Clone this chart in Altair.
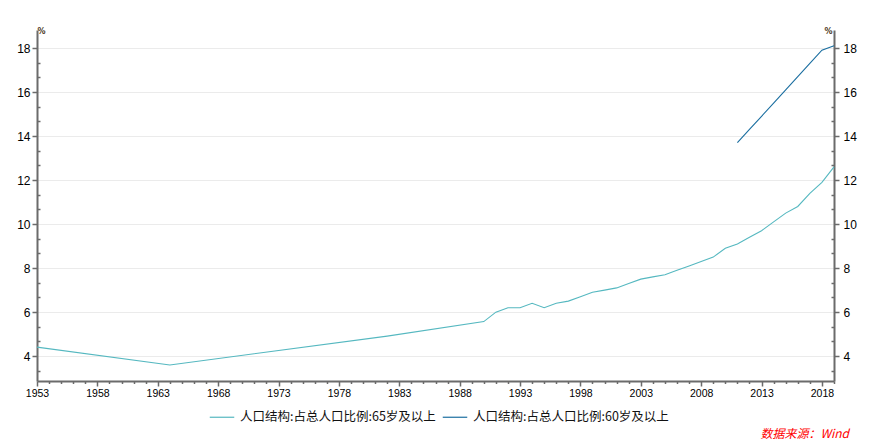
import altair as alt
import pandas as pd

# ---- data ----
series_names = ["人口结构:占总人口比例:65岁及以上", "人口结构:占总人口比例:60岁及以上"]
series_colors = ["#55b8c0", "#1a6ea0"]

years_65 = [1953, 1964, 1982,
            1990, 1991, 1992, 1993, 1994, 1995, 1996, 1997, 1998, 1999,
            2000, 2001, 2002, 2003, 2004, 2005, 2006, 2007, 2008, 2009,
            2010, 2011, 2012, 2013, 2014, 2015, 2016, 2017, 2018, 2019]
values_65 = [4.41, 3.6, 4.91,
             5.57, 6.0, 6.2, 6.2, 6.4, 6.2, 6.4, 6.5, 6.7, 6.9,
             7.0, 7.1, 7.3, 7.5, 7.6, 7.7, 7.9, 8.1, 8.3, 8.5,
             8.9, 9.1, 9.4, 9.7, 10.1, 10.5, 10.8, 11.4, 11.9, 12.6]

years_60 = [2011, 2012, 2013, 2014, 2015, 2016, 2017, 2018, 2019]
values_60 = [13.7, 14.3, 14.9, 15.5, 16.1, 16.7, 17.3, 17.9, 18.1]

x_major = [1953, 1958, 1963, 1968, 1973, 1978, 1983, 1988, 1993, 1998, 2003, 2008, 2013, 2018]
x_minor = [y for y in range(1953, 2020) if y not in x_major]
y_major = [4, 6, 8, 10, 12, 14, 16, 18]
y_minor = [3.333, 4.667, 5.333, 6.667, 7.333, 8.667, 9.333, 10.667, 11.333,
           12.667, 13.333, 14.667, 15.333, 16.667, 17.333]
source_text = ["数据来源：Wind"]

x_domain = [1953, 2019]
y_domain = [2.87, 18.82]

W, H = 797, 351
AXIS_GRAY = "#6b6b6b"

df = pd.concat([
    pd.DataFrame({"year": years_65, "value": values_65, "series": series_names[0]}),
    pd.DataFrame({"year": years_60, "value": values_60, "series": series_names[1]}),
], ignore_index=True)

xscale = alt.Scale(domain=x_domain, nice=False, zero=False)
yscale = alt.Scale(domain=y_domain, nice=False, zero=False)

LABEL_FONT = "Liberation Sans"

lines = alt.Chart(df).mark_line(strokeWidth=1.1).encode(
    x=alt.X("year:Q", scale=xscale, title="",
            axis=alt.Axis(orient="bottom", values=x_major, format="d",
                          labelFont=LABEL_FONT, labelFontSize=10.5, labelColor="#000000",
                          labelPadding=2, tickSize=5, tickWidth=1.5, tickColor=AXIS_GRAY,
                          domainColor=AXIS_GRAY, domainWidth=2, grid=False,
                          labelFlush=False, labelOverlap=False)),
    y=alt.Y("value:Q", scale=yscale, title="%",
            axis=alt.Axis(orient="left", values=y_major, format="d",
                          labelFont=LABEL_FONT, labelFontSize=12, labelColor="#000000",
                          labelPadding=2, tickSize=5, tickWidth=1.5, tickColor=AXIS_GRAY,
                          domainColor=AXIS_GRAY, domainWidth=2,
                          grid=True, gridColor="#ebebeb", gridWidth=1,
                          titleAngle=0, titleX=4, titleY=1, titleAlign="center",
                          titleBaseline="middle", titleFont="DejaVu Sans",
                          titleFontSize=8, titleFontWeight="bold", titleColor="#4a3520",
                          labelOverlap=False)),
    color=alt.Color("series:N",
                    scale=alt.Scale(domain=series_names, range=series_colors),
                    legend=alt.Legend(orient="none", direction="horizontal", title="",
                                      legendX=172, legendY=374,
                                      symbolType="stroke", symbolSize=600,
                                      symbolStrokeWidth=1.2, labelFont="Noto Sans CJK SC",
                                      labelFontSize=12.5, labelColor="#111111",
                                      labelOffset=5, columnPadding=4,
                                      labelLimit=400)),
)

right_major = alt.Chart(df).mark_line(strokeOpacity=0).encode(
    x=alt.X("year:Q", scale=xscale, axis=None),
    y=alt.Y("value:Q", scale=yscale, title="%",
            axis=alt.Axis(orient="right", values=y_major, format="d",
                          labelFont=LABEL_FONT, labelFontSize=12, labelColor="#000000",
                          labelPadding=4, tickSize=5, tickWidth=1.5, tickColor=AXIS_GRAY,
                          domainColor=AXIS_GRAY, domainWidth=2, grid=False,
                          titleAngle=0, titleX=-6, titleY=1, titleAlign="center",
                          titleBaseline="middle", titleFont="DejaVu Sans",
                          titleFontSize=8, titleFontWeight="bold", titleColor="#4a3520",
                          labelOverlap=False)),
    detail="series:N",
)

# minor ticks pointing inward on the left axis (a right-oriented axis moved to x=0)
left_minor = alt.Chart(df).mark_line(strokeOpacity=0).encode(
    x=alt.X("year:Q", scale=xscale, axis=None),
    y=alt.Y("value:Q", scale=yscale, title="",
            axis=alt.Axis(orient="right", offset=-W, values=y_minor, labels=False,
                          domain=False, grid=False, tickSize=3, tickWidth=1.5,
                          tickColor=AXIS_GRAY)),
    detail="series:N",
)

# minor ticks pointing inward on the right axis (a left-oriented axis moved to x=W)
right_minor = alt.Chart(df).mark_line(strokeOpacity=0).encode(
    x=alt.X("year:Q", scale=xscale, axis=None),
    y=alt.Y("value:Q", scale=yscale, title="",
            axis=alt.Axis(orient="left", offset=-W, values=y_minor, labels=False,
                          domain=False, grid=False, tickSize=3, tickWidth=1.5,
                          tickColor=AXIS_GRAY)),
    detail="series:N",
)

x_minor_axis = alt.Chart(df).mark_line(strokeOpacity=0).encode(
    x=alt.X("year:Q", scale=xscale, title="",
            axis=alt.Axis(orient="bottom", values=x_minor, labels=False, domain=False,
                          grid=False, tickSize=2.5, tickWidth=1.5, tickColor=AXIS_GRAY)),
    y=alt.Y("value:Q", scale=yscale, axis=None),
    detail="series:N",
)

source = alt.Chart(pd.DataFrame({"t": source_text})).mark_text(
    align="right", baseline="middle", font="Noto Sans CJK SC", fontSize=12,
    fontStyle="italic", color="#ff0000",
).encode(text="t:N", x=alt.value(W + 15), y=alt.value(H + 53))

chart = alt.layer(lines, right_major, left_minor, right_minor, x_minor_axis, source).resolve_scale(
    x="independent", y="independent"
).properties(
    width=W, height=H,
    autosize=alt.AutoSizeParams(type="none"),
    padding={"left": 29, "top": 22, "right": 30, "bottom": 60},
    background="white",
).configure_view(stroke=None)

chart.save("out.html", embed_options={"renderer": "svg", "actions": False})
